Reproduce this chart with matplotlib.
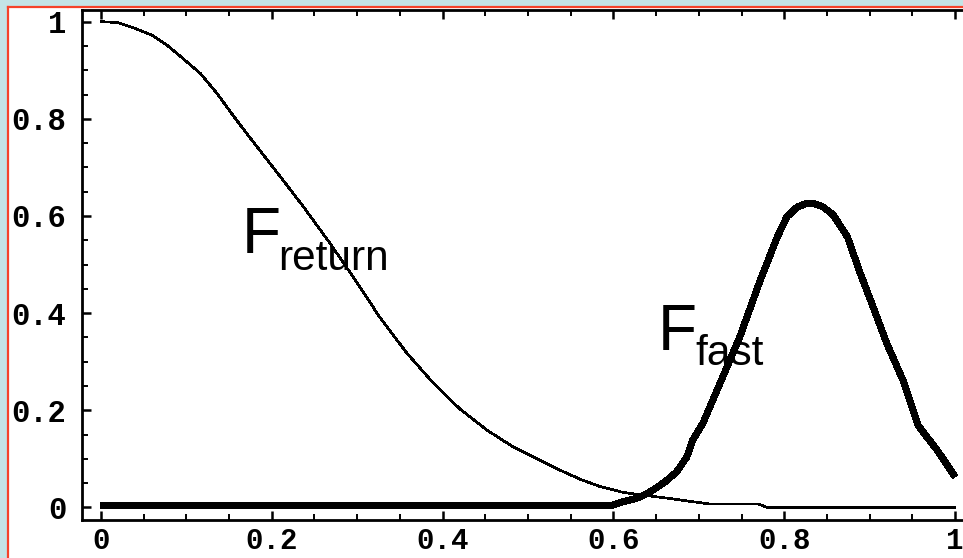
import numpy as np
import matplotlib
matplotlib.use("Agg")
import matplotlib.pyplot as plt
from matplotlib.ticker import MultipleLocator, FuncFormatter
from matplotlib.lines import Line2D
from matplotlib.patches import Rectangle

# return probability (thin curve)
x_return = [0.0, 0.02, 0.037, 0.06, 0.077, 0.092, 0.116, 0.136, 0.155, 0.174,
            0.194, 0.213, 0.237, 0.268, 0.295, 0.327, 0.358, 0.389, 0.420,
            0.452, 0.483, 0.537, 0.561, 0.584, 0.611, 0.640, 0.663, 0.687,
            0.713, 0.770, 0.780, 1.0]
f_return = [1.0, 0.998, 0.988, 0.972, 0.952, 0.930, 0.894, 0.852, 0.806, 0.762,
            0.717, 0.674, 0.619, 0.544, 0.475, 0.390, 0.318, 0.256, 0.203,
            0.159, 0.124, 0.077, 0.058, 0.043, 0.031, 0.024, 0.019, 0.013,
            0.007, 0.007, 0.0, 0.0]

# fast fraction (thick curve)
x_fast = [0.0, 0.598, 0.610, 0.630, 0.645, 0.660, 0.674, 0.686, 0.693, 0.705,
          0.715, 0.748, 0.772, 0.792, 0.803, 0.815, 0.825, 0.835, 0.845, 0.857,
          0.874, 0.889, 0.904, 0.920, 0.939, 0.957, 0.979, 1.0]
f_fast = [0.004, 0.004, 0.011, 0.020, 0.034, 0.052, 0.073, 0.104, 0.139, 0.174,
          0.215, 0.351, 0.468, 0.557, 0.598, 0.618, 0.625, 0.625, 0.619, 0.603,
          0.557, 0.482, 0.413, 0.338, 0.262, 0.168, 0.118, 0.063]

W, H = 963, 558
fig = plt.figure(figsize=(W / 100, H / 100), dpi=100, facecolor="#c4e4e6")

# white page with red border on the left and top
fig.patches.append(Rectangle((7.5 / W, 0), 1, (H - 7.5) / H, transform=fig.transFigure,
                             facecolor="white", edgecolor="none", zorder=-2))
fig.lines.append(Line2D([7.5 / W, 7.5 / W], [0, (H - 6.5) / H], transform=fig.transFigure,
                        color="#f5432a", lw=1.6))
fig.lines.append(Line2D([7.5 / W, 1], [(H - 6.8) / H, (H - 6.8) / H], transform=fig.transFigure,
                        color="#f5432a", lw=1.6))

left, right, top, bottom = 81.5, 974.5, 9.5, 520
ax = fig.add_axes([left / W, (H - bottom) / H, (right - left) / W, (bottom - top) / H])
ax.set_facecolor("white")

ax.plot(x_return, f_return, color="black", lw=1.2, antialiased=False)
ax.plot(x_fast, f_fast, color="black", lw=4.3, antialiased=False,
        solid_capstyle="butt", solid_joinstyle="round")

ax.set_xlim(-0.0228, 1.0228)
ax.set_ylim(-0.026, 1.025)

for s in ax.spines.values():
    s.set_linewidth(2.0)

ax.xaxis.set_major_locator(MultipleLocator(0.2))
ax.xaxis.set_minor_locator(MultipleLocator(0.05))
ax.yaxis.set_major_locator(MultipleLocator(0.2))
ax.yaxis.set_minor_locator(MultipleLocator(0.05))
fmt = FuncFormatter(lambda v, p: "%g" % round(v, 2))
ax.xaxis.set_major_formatter(fmt)
ax.yaxis.set_major_formatter(fmt)

ax.tick_params(which="both", direction="in", top=True, right=True, colors="black")
ax.tick_params(which="major", length=6.5, width=1.8)
ax.tick_params(which="minor", length=4, width=1.4)
ax.tick_params(axis="y", which="major", pad=11)
ax.tick_params(axis="x", which="major", pad=5)
for lab in ax.get_yticklabels():
    lab.set_fontfamily("Liberation Mono")
    lab.set_fontsize(22)
    lab.set_fontweight("bold")
for lab in ax.get_xticklabels():
    lab.set_fontfamily("Liberation Mono")
    lab.set_fontsize(21)
    lab.set_fontweight("bold")

# curve labels
ax.text(0.165, 0.524, "F", family="Liberation Sans", fontsize=46, va="baseline", ha="left")
ax.text(0.207, 0.489, "return", family="Liberation Sans", fontsize=30.5, va="baseline", ha="left")
ax.text(0.652, 0.324, "F", family="Liberation Sans", fontsize=46, va="baseline", ha="left")
ax.text(0.696, 0.293, "fast", family="Liberation Sans", fontsize=30.5, va="baseline", ha="left")

fig.savefig("out.png", dpi=100, facecolor=fig.get_facecolor())
